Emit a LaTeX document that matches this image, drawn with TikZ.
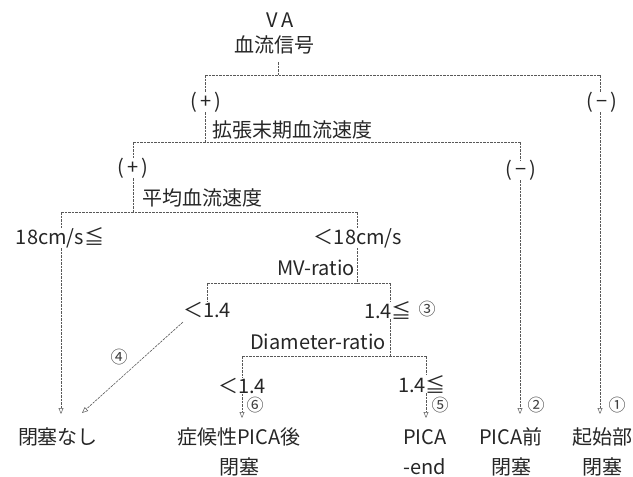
\documentclass[tikz,border=0pt]{standalone}
\usepackage{fontspec}
\setmainfont{Noto Sans CJK JP}
\usetikzlibrary{arrows.meta}
\begin{document}
\begin{tikzpicture}[x=1pt,y=-1pt,
  txt/.style={inner sep=0pt, font=\fontsize{20}{30}\selectfont, text=black!85},
  two/.style={txt, align=center},
  num/.style={inner sep=0pt, font=\fontsize{17}{17}\selectfont, text=black!75},
  ln/.style={draw=black!65, line width=0.6pt, dash pattern=on 2.5pt off 1pt},
  arr/.style={ln, -{Triangle[open, length=6pt, width=5pt, line width=0.5pt]}}]
\useasboundingbox (0,0) rectangle (633,477);
% texts
\node[txt] (va) at (280,20) {V\,A};
\node[txt] (sig) at (274,45) {血流信号};
\node[txt] (p1) at (206,102) {(\,+\,)};
\node[txt] (m1) at (602,102) {(\,−\,)};
\node[txt,anchor=west] (q1) at (212,130) {拡張末期血流速度};
\node[txt] (p2) at (133,168) {(\,+\,)};
\node[txt] (m2) at (521,170) {(\,−\,)};
\node[txt,anchor=west] (q2) at (142,198) {平均血流速度};
\node[txt] (s1) at (60,238) {18cm/s≦};
\node[txt] (s2) at (358,238) {＜18cm/s};
\node[txt,anchor=east] (q3) at (355,268) {MV-ratio};
\node[txt] (u1) at (207,310) {＜1.4};
\node[txt] (u2) at (388,310) {1.4≦};
\node[num] (c3) at (427,309) {③};
\node[txt,anchor=east] (q4) at (386,342) {Diameter-ratio};
\node[txt] (v1) at (242,386) {＜1.4};
\node[txt] (v2) at (422,384) {1.4≦};
\node[num] (c4) at (119,357) {④};
\node[num] (c6) at (255,405) {⑥};
\node[num] (c5) at (440,405) {⑤};
\node[num] (c2) at (536,405) {②};
\node[num] (c1) at (617,405) {①};
\node[txt] (b1) at (58,437) {閉塞なし};
\node[two] (b2) at (239,452) {症候性PICA後\\閉塞};
\node[two] (b3) at (425,452) {PICA\\-end};
\node[two] (b4) at (511,452) {PICA前\\閉塞};
\node[two] (b5) at (602,452) {起始部\\閉塞};
% junction coordinates
\coordinate (j0) at (278,62);
\coordinate (j1) at (278,75);
\coordinate (L1) at (205,75);
\coordinate (R1) at (600,75);
\coordinate (A1) at (600,414);
\coordinate (L2) at (133,142);
\coordinate (M2) at (205,142);
\coordinate (R2) at (520,142);
\coordinate (A2) at (520,414);
\coordinate (L3) at (61,212);
\coordinate (M3) at (133,212);
\coordinate (R3) at (357,212);
\coordinate (A3) at (61,414);
\coordinate (L4) at (207,283);
\coordinate (M4) at (357,283);
\coordinate (R4) at (390,283);
\coordinate (L5) at (242,356);
\coordinate (M5) at (390,356);
\coordinate (R5) at (426,356);
\coordinate (A5) at (242,418);
\coordinate (A6) at (426,418);
\coordinate (D0) at (183,322);
\coordinate (D1) at (82,413);
% level 1
\draw[ln] (j0) -- (j1);
\draw[ln] (L1) -- (R1);
\draw[ln] (L1) -- (L1 |- p1.north);
\draw[ln] (L1 |- p1.south) -- (M2);
\draw[ln] (R1) -- (R1 |- m1.north);
\draw[arr] (R1 |- m1.south) -- (A1);
% level 2
\draw[ln] (L2) -- (R2);
\draw[ln] (L2) -- (L2 |- p2.north);
\draw[ln] (L2 |- p2.south) -- (M3);
\draw[ln] (R2) -- (R2 |- m2.north);
\draw[arr] (R2 |- m2.south) -- (A2);
% level 3
\draw[ln] (L3) -- (R3);
\draw[ln] (L3) -- (L3 |- s1.north);
\draw[arr] (L3 |- s1.south) -- (A3);
\draw[ln] (R3) -- (R3 |- s2.north);
\draw[ln] (R3 |- s2.south) -- (M4);
% level 4
\draw[ln] (L4) -- (R4);
\draw[ln] (L4) -- (L4 |- u1.north);
\draw[ln] (R4) -- (R4 |- u2.north);
\draw[ln] (R4 |- u2.south) -- (M5);
\draw[arr] (D0) -- (D1);
% level 5
\draw[ln] (L5) -- (R5);
\draw[ln] (L5) -- (L5 |- v1.north);
\draw[arr] (L5 |- v1.south) -- (A5);
\draw[ln] (R5) -- (R5 |- v2.north);
\draw[arr] (R5 |- v2.south) -- (A6);
\end{tikzpicture}
\end{document}
